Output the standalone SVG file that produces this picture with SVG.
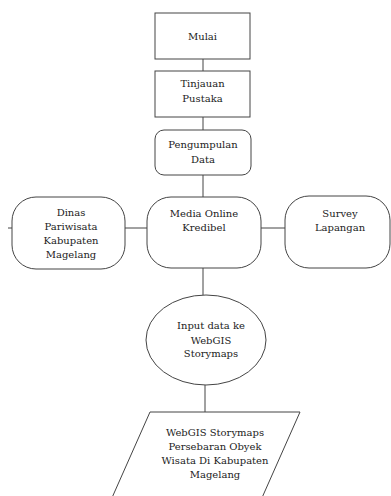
<svg xmlns="http://www.w3.org/2000/svg" width="391" height="496" viewBox="0 0 391 496">
<style>
.s{fill:#fff;stroke:#444;stroke-width:1}
.c{stroke:#444;stroke-width:1;fill:none}
text{font-family:'DejaVu Serif',serif;font-size:10px;fill:#222;text-anchor:middle}
</style>
<rect width="391" height="496" fill="#fff"/>
<g id="connectors">
<line class="c" x1="203" y1="59" x2="203" y2="71"/>
<line class="c" x1="203" y1="117" x2="203" y2="130"/>
<line class="c" x1="203" y1="175" x2="203" y2="197"/>
<line class="c" x1="125" y1="228" x2="147" y2="228"/>
<line class="c" x1="261" y1="228" x2="285" y2="228"/>
<line class="c" x1="8" y1="228" x2="12" y2="228"/>
<line class="c" x1="203" y1="268" x2="203" y2="295"/>
<line class="c" x1="205" y1="385" x2="205" y2="412"/>
</g>
<g id="mulai">
<rect class="s" x="155" y="13" width="95" height="46"/>
<text x="202.5" y="40">Mulai</text>
</g>
<g id="tinjauan">
<rect class="s" x="155" y="71" width="95" height="46"/>
<text x="202.5" y="87">Tinjauan</text>
<text x="202.5" y="102">Pustaka</text>
</g>
<g id="pengumpulan">
<rect class="s" x="155" y="130" width="96" height="45" rx="9"/>
<text x="203" y="148">Pengumpulan</text>
<text x="203" y="163">Data</text>
</g>
<g id="dinas">
<rect class="s" x="12" y="197" width="113" height="72" rx="24" ry="24"/>
<text x="71" y="216">Dinas</text>
<text x="71" y="230">Pariwisata</text>
<text x="71" y="244">Kabupaten</text>
<text x="71" y="258">Magelang</text>
</g>
<g id="media">
<rect class="s" x="147" y="197" width="114" height="71" rx="24" ry="24"/>
<text x="204" y="217">Media Online</text>
<text x="204" y="231">Kredibel</text>
</g>
<g id="survey">
<rect class="s" x="285" y="196" width="105" height="72" rx="24" ry="24"/>
<text x="340" y="217">Survey</text>
<text x="340" y="231">Lapangan</text>
</g>
<g id="input">
<ellipse class="s" cx="206" cy="340" rx="60" ry="45"/>
<text x="211" y="329">Input data ke</text>
<text x="211" y="344">WebGIS</text>
<text x="211" y="357">Storymaps</text>
</g>
<g id="output">
<polygon class="s" points="150,412 300,412 261,500 111,500"/>
<text x="215" y="436">WebGIS Storymaps</text>
<text x="215" y="450">Persebaran Obyek</text>
<text x="215" y="464">Wisata Di Kabupaten</text>
<text x="215" y="478">Magelang</text>
</g>
</svg>
